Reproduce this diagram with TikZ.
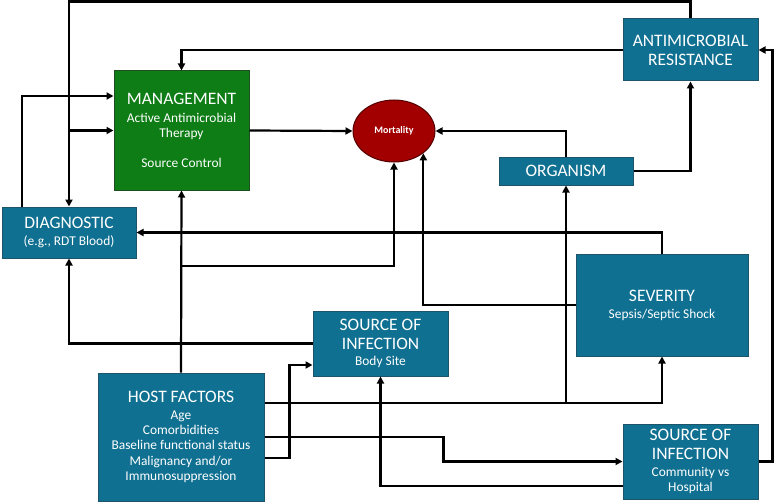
\documentclass[tikz,border=0pt]{standalone}
\usepackage{fontspec}
\setmainfont{Carlito}
\usetikzlibrary{arrows.meta,shapes.geometric}
\definecolor{boxblue}{RGB}{16,112,145}
\definecolor{boxblueedge}{RGB}{28,84,105}
\definecolor{mgmtgreen}{RGB}{14,125,22}
\definecolor{mgmtedge}{RGB}{32,78,32}
\definecolor{mortred}{RGB}{162,0,0}
\definecolor{mortedge}{RGB}{85,0,0}
\newcommand{\ttl}{\fontsize{17.5}{19}\selectfont}
\newcommand{\sub}{\fontsize{13.4}{15.3}\selectfont}
\tikzset{
  box/.style={rectangle, draw=boxblueedge, line width=1pt, fill=boxblue, text=white, align=center, inner sep=0pt, font=\sub},
  greenbox/.style={box, draw=mgmtedge, fill=mgmtgreen},
  oval/.style={ellipse, draw=mortedge, line width=1pt, fill=mortred, text=white, inner sep=0pt},
  conn/.style={line width=2.2pt, black},
  arr/.style={conn, -{Triangle[length=7pt,width=7pt]}},
}
\begin{document}
\begin{tikzpicture}[x=1pt,y=-1pt]
\useasboundingbox (0,0) rectangle (777,503);
% nodes
\node[greenbox, minimum width=135pt, minimum height=119pt] (mgmt) at (181.5,130.5)
  {{\ttl MANAGEMENT}\\[2.5pt]Active Antimicrobial\\Therapy\\[15pt]Source Control};
\node[box, minimum width=134pt, minimum height=51pt] (diag) at (69,232.5)
  {{\ttl DIAGNOSTIC}\\[2pt](e.g., RDT Blood)};
\node[oval, minimum width=82pt, minimum height=62pt] (mort) at (394,131)
  {\fontsize{10}{12}\selectfont\bfseries Mortality};
\node[box, minimum width=135pt, minimum height=62pt, font=\ttl] (amr) at (690.5,50)
  {ANTIMICROBIAL\\RESISTANCE};
\node[box, minimum width=134pt, minimum height=28pt, font=\ttl] (org) at (566,171)
  {ORGANISM};
\node[box, minimum width=172pt, minimum height=102pt] (sev) at (662,305)
  {{\ttl SEVERITY}\\[1.5pt]Sepsis/Septic Shock};
\node[box, minimum width=135pt, minimum height=65pt] (src1) at (380.5,343.5)
  {{\ttl SOURCE OF}\\[3.5pt]{\ttl INFECTION}\\[1.5pt]Body Site};
\node[box, minimum width=166pt, minimum height=128pt] (host) at (181,437)
  {{\ttl HOST FACTORS}\\[1pt]Age\\Comorbidities\\Baseline functional status\\Malignancy and/or\\Immunosuppression};
\node[box, minimum width=135pt, minimum height=75pt] (src2) at (690.5,461.5)
  {{\ttl SOURCE OF}\\[3.5pt]{\ttl INFECTION}\\[1.5pt]Community vs\\Hospital};
% helper coordinates
\coordinate (j1) at (181,266);
\coordinate (h1) at ([yshift=34pt]host.east);
% connectors
\draw[arr] (amr.north) -- ++(0,-17) -| (diag.north);
\draw[arr] (diag.north |- mgmt.west) -- (mgmt.west);
\draw[arr] ([xshift=-47pt]diag.north) |- ([yshift=34.5pt]mgmt.west);
\draw[arr] (amr.west) -| (mgmt.north);
\draw[arr] (mgmt.east) -- (mort.west);
\draw[arr] (org.north) |- (mort.east);
\draw[arr] (org.east) -| (amr.south);
\draw[arr] (sev.north) |- (diag.east);
\draw[arr] (host.north) -- (mgmt.south);
\draw[arr] (j1) -| (mort.south);
\draw[arr] (sev.west) -| (mort.south east);
\draw[arr] (src1.west) -| (diag.south);
\draw[arr] ([yshift=-21pt]host.east) -- ++(25,0) |- ([yshift=-21.5pt]src1.west);
\draw[arr] (h1) -| (sev.south);
\draw[arr] (org.south |- h1) -- (org.south);
\draw[arr] (host.east) -- ++(179,0) |- (src2.west);
\draw[arr] ([yshift=-24.5pt]src2.west) -| (src1.south);
\draw[arr] (src2.east) -- ++(14,0) |- (amr.east);
\end{tikzpicture}
\end{document}
